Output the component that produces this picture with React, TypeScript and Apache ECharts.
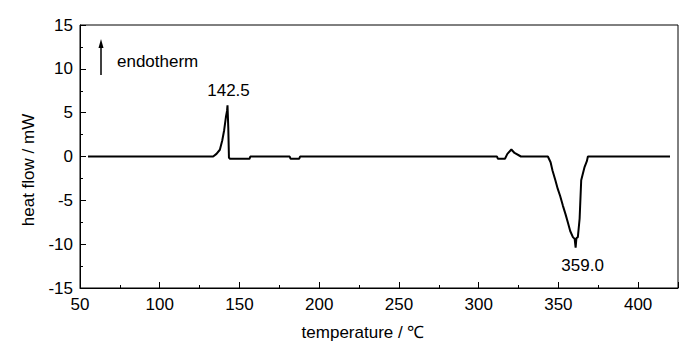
import React, { useEffect, useRef } from "react";
import * as echarts from "echarts";

const temperature = [
  55, 133.5, 135.6, 137.7, 139.2, 140.4, 141.5, 142.2, 142.5, 143.0, 143.4, 144.2,
  156.3, 156.8, 181.5, 182, 187.5, 188, 311.5, 312, 316.5, 318, 320.5, 322.5,
  326.5, 343.4, 345.1, 346.3, 348.1, 349.6, 351.1, 352.8, 354.5, 355.9, 357.4,
  359.1, 360.2, 360.8, 361.3, 362.2, 363.3, 364.3, 366.4, 367.9, 368.5, 420,
];
const heatFlow = [
  0, 0, 0.3, 0.77, 1.83, 3.0, 4.5, 5.2, 5.84, 3.2, -0.15, -0.27,
  -0.27, 0, 0, -0.25, -0.25, 0, 0, -0.25, -0.25, 0.3, 0.8, 0.4,
  0, 0, -0.65, -1.6, -2.7, -3.7, -4.5, -5.6, -6.6, -7.5, -8.5,
  -9.2, -9.4, -10.4, -9.3, -9.2, -7.1, -2.7, -1.2, -0.5, 0, 0,
];
const peakLabels = [
  { t: 142.5, v: 5.84, text: "142.5", offset: [1, -15] },
  { t: 360.8, v: -10.4, text: "359.0", offset: [7, 18] },
];
const xTitle = "temperature / ℃";
const yTitle = "heat flow / mW";
const noteText = "endotherm";

const FONT = "'Liberation Sans', Arial, sans-serif";

export default function App() {
  const ref = useRef<HTMLDivElement>(null);
  useEffect(() => {
    if (!ref.current) return;
    const chart = echarts.init(ref.current, null, { renderer: "svg" });
    const data = temperature.map((t, i) => [t, heatFlow[i]]);
    chart.setOption({
      animation: false,
      backgroundColor: "#fff",
      grid: {
        left: 80,
        right: 22,
        top: 25,
        bottom: 61,
        show: true,
        borderColor: "#000",
        borderWidth: 1,
        containLabel: false,
      },
      xAxis: {
        type: "value",
        min: 50,
        max: 425,
        interval: 50,
        axisLine: { show: true, onZero: false, lineStyle: { color: "#000", width: 1 } },
        axisTick: { show: true, inside: true, length: 6, lineStyle: { color: "#000" } },
        minorTick: { show: true, splitNumber: 2, length: 3, lineStyle: { color: "#000" } },
        splitLine: { show: false },
        axisLabel: {
          color: "#000",
          fontSize: 17,
          fontFamily: FONT,
          margin: 8,
          showMaxLabel: false,
        },
      },
      yAxis: {
        type: "value",
        min: -15,
        max: 15,
        interval: 5,
        axisLine: { show: true, onZero: false, lineStyle: { color: "#000", width: 1 } },
        axisTick: { show: true, inside: true, length: 6, lineStyle: { color: "#000" } },
        minorTick: { show: true, splitNumber: 2, length: 3, lineStyle: { color: "#000" } },
        splitLine: { show: false },
        axisLabel: { color: "#000", fontSize: 17, fontFamily: FONT, margin: 7 },
      },
      series: [
        {
          type: "line",
          data,
          showSymbol: false,
          symbol: "none",
          lineStyle: { color: "#000", width: 2 },
          markPoint: {
            symbol: "circle",
            symbolSize: 0,
            itemStyle: { color: "transparent" },
            label: {
              show: true,
              position: "inside",
              color: "#000",
              fontSize: 17,
              fontFamily: FONT,
            },
            data: peakLabels.map((p) => ({
              coord: [p.t, p.v],
              value: p.text,
              label: { formatter: p.text, offset: p.offset },
            })),
          },
        },
      ],
      graphic: [
        {
          type: "text",
          x: 379 - 16,
          y: 332,
          style: {
            text: xTitle,
            fill: "#000",
            font: `17px ${FONT}`,
            align: "center",
            verticalAlign: "middle",
          },
        },
        {
          type: "text",
          x: 28,
          y: 170,
          rotation: Math.PI / 2,
          style: {
            text: yTitle,
            fill: "#000",
            font: `17px ${FONT}`,
            align: "center",
            verticalAlign: "middle",
          },
        },
        {
          type: "line",
          shape: { x1: 101, y1: 75, x2: 101, y2: 46 },
          style: { stroke: "#000", lineWidth: 1.5 },
        },
        {
          type: "polygon",
          shape: { points: [[101, 39], [98.5, 48], [103.5, 48]] },
          style: { fill: "#000" },
        },
        {
          type: "text",
          x: 117,
          y: 61,
          style: {
            text: noteText,
            fill: "#000",
            font: `17px ${FONT}`,
            align: "left",
            verticalAlign: "middle",
          },
        },
      ],
    });
    return () => chart.dispose();
  }, []);
  return (
    <div
      ref={ref}
      style={{ position: "fixed", left: 0, top: 0, width: 700, height: 349 }}
    />
  );
}
